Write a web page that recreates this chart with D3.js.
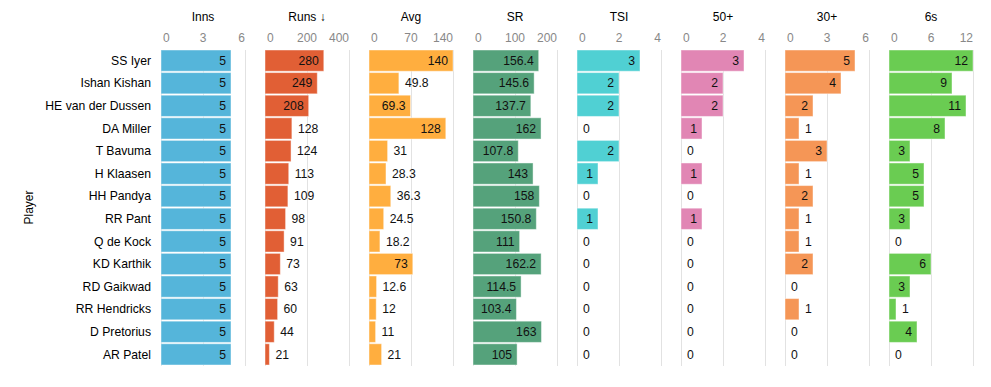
<!DOCTYPE html>
<html lang="en">
<head>
    <meta charset="UTF-8">
    <title>Player stats</title>
    <style>
        body { margin: 0; background: #fff; }
        svg text { font-family: "Liberation Sans", Arial, sans-serif; }
    </style>
</head>
<body>
    <div id="chart"></div>
    <script src="https://d3js.org/d3.v7.min.js"></script>
    <script>
        // dados
        const players = ["SS Iyer", "Ishan Kishan", "HE van der Dussen", "DA Miller", "T Bavuma", "H Klaasen",
            "HH Pandya", "RR Pant", "Q de Kock", "KD Karthik", "RD Gaikwad", "RR Hendricks", "D Pretorius", "AR Patel"];
        const inns = [5, 5, 5, 5, 5, 5, 5, 5, 5, 5, 5, 5, 5, 5];
        const runs = [280, 249, 208, 128, 124, 113, 109, 98, 91, 73, 63, 60, 44, 21];
        const avg = [140, 49.8, 69.3, 128, 31, 28.3, 36.3, 24.5, 18.2, 73, 12.6, 12, 11, 21];
        const sr = [156.4, 145.6, 137.7, 162, 107.8, 143, 158, 150.8, 111, 162.2, 114.5, 103.4, 163, 105];
        const tsi = [3, 2, 2, 0, 2, 1, 0, 1, 0, 0, 0, 0, 0, 0];
        const fifties = [3, 2, 2, 1, 0, 1, 0, 1, 0, 0, 0, 0, 0, 0];
        const thirties = [5, 4, 2, 1, 3, 1, 2, 1, 1, 2, 0, 1, 0, 0];
        const sixes = [12, 9, 11, 8, 3, 5, 5, 3, 0, 6, 3, 1, 4, 0];

        const columnTitles = ["Inns", "Runs \u2193", "Avg", "SR", "TSI", "50+", "30+", "6s"];
        const columnValues = [inns, runs, avg, sr, tsi, fifties, thirties, sixes];
        const columnMax = [6, 400, 140, 200, 4, 4, 6, 12];
        const columnTicks = [[0, 3, 6], [0, 200, 400], [0, 70, 140], [0, 100, 200], [0, 2, 4], [0, 2, 4], [0, 3, 6], [0, 6, 12]];
        const columnColors = ["#55b5da", "#e15f35", "#ffae3f", "#55a27b", "#50d0d3", "#e186b4", "#f59656", "#6acc52"];

        const width = 991;
        const height = 387;
        const plotLeft = 161, plotTop = 50, plotBottom = 365;
        const panelW = 84, panelGap = 20;

        const svg = d3.select("#chart").append("svg")
            .attr("width", width)
            .attr("height", height);

        const y = d3.scaleBand()
            .domain(players)
            .range([plotTop, plotBottom])
            .paddingInner(0.06);

        // nomes dos jogadores
        svg.append("g").selectAll("text")
            .data(players)
            .enter().append("text")
            .attr("x", 151)
            .attr("y", d => y(d) + y.bandwidth() / 2)
            .attr("dy", "0.35em")
            .attr("text-anchor", "end")
            .attr("font-size", 12.2)
            .attr("fill", "#000")
            .text(d => d);

        svg.append("text")
            .attr("transform", `translate(33,${(plotTop + plotBottom) / 2}) rotate(-90)`)
            .attr("text-anchor", "middle")
            .attr("font-size", 12)
            .attr("fill", "#000")
            .text("Player");

        columnTitles.forEach((title, i) => {
            const x0 = plotLeft + i * (panelW + panelGap);
            const x = d3.scaleLinear().domain([0, columnMax[i]]).range([0, panelW]);
            const g = svg.append("g").attr("transform", `translate(${x0},0)`);
            const ticks = columnTicks[i];

            g.append("text")
                .attr("x", panelW / 2)
                .attr("y", 21)
                .attr("text-anchor", "middle")
                .attr("font-size", 12)
                .attr("fill", "#000")
                .text(title);

            // grade vertical
            g.selectAll("line.grid")
                .data(ticks)
                .enter().append("line")
                .attr("class", "grid")
                .attr("x1", d => x(d) + 0.5)
                .attr("x2", d => x(d) + 0.5)
                .attr("y1", plotTop)
                .attr("y2", plotBottom + 1)
                .attr("stroke", "#e2e2e2");

            g.selectAll("text.tick")
                .data(ticks)
                .enter().append("text")
                .attr("class", "tick")
                .attr("x", (d, k) => x(d) + (k === 0 ? 2 : 0))
                .attr("y", 42)
                .attr("text-anchor", (d, k) => k === 0 ? "start" : (k === ticks.length - 1 ? "end" : "middle"))
                .attr("font-size", 12)
                .attr("fill", "#888")
                .text(d => d);

            const vals = columnValues[i];
            g.selectAll("rect")
                .data(vals)
                .enter().append("rect")
                .attr("x", 0)
                .attr("y", (d, k) => y(players[k]))
                .attr("width", d => x(d))
                .attr("height", y.bandwidth())
                .attr("fill", columnColors[i])
                .attr("stroke", "rgba(255,255,255,0.45)")
                .attr("stroke-width", 1);

            g.selectAll("text.val")
                .data(vals)
                .enter().append("text")
                .attr("class", "val")
                .attr("y", (d, k) => y(players[k]) + y.bandwidth() / 2)
                .attr("dy", "0.35em")
                .attr("font-size", 12.2)
                .attr("fill", "#111")
                .text(d => d)
                .each(function (d) {
                    const tw = this.getComputedTextLength();
                    const w = x(d);
                    const sel = d3.select(this);
                    // dentro da barra se couber, senão logo depois
                    if (w >= tw + 12) {
                        sel.attr("x", w - 5).attr("text-anchor", "end");
                    } else {
                        sel.attr("x", w + 6).attr("text-anchor", "start");
                    }
                });
        });
    </script>
</body>
</html>
